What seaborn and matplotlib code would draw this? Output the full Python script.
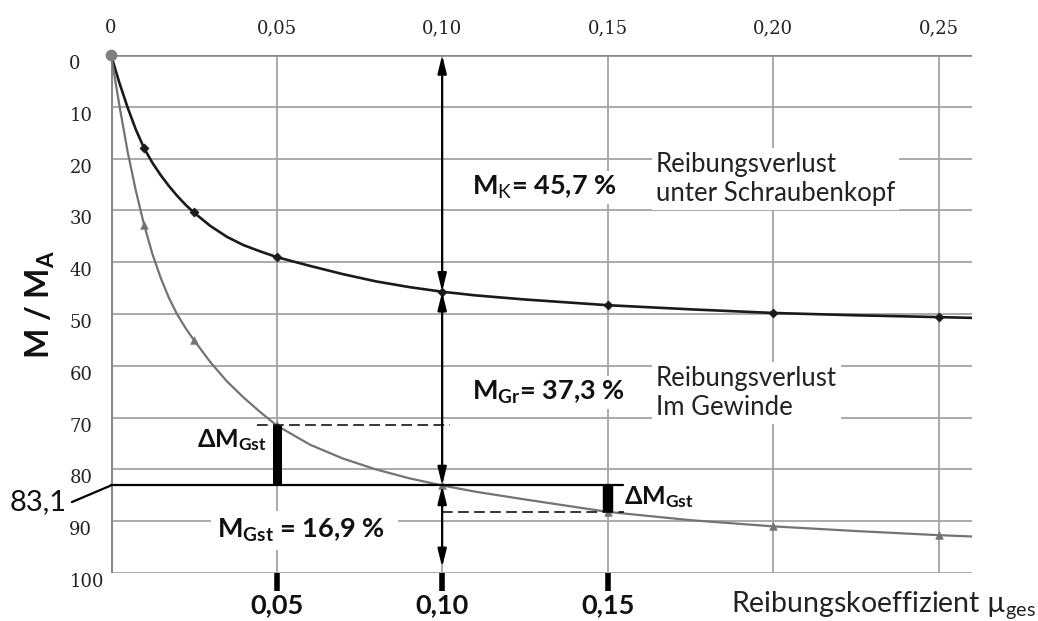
import matplotlib
matplotlib.use("Agg")
import matplotlib.pyplot as plt
import seaborn as sns

# ---------------- data ----------------
mu_markers = [0.0, 0.01, 0.025, 0.05, 0.10, 0.15, 0.20, 0.25]
kopf_markers = [0.0, 18.0, 30.4, 39.0, 45.7, 48.3, 49.8, 50.6]      # M/MA after head friction
gew_markers = [0.0, 32.8, 55.0, 71.5, 83.1, 88.2, 91.0, 92.7]      # M/MA after thread friction

# curve traces read along the drawn (smoothed) lines
kopf_trace_x = [0.0, 0.0025, 0.005, 0.0075, 0.01, 0.0125, 0.015, 0.0175, 0.02, 0.0225, 0.025,
                0.03, 0.035, 0.04, 0.045, 0.05, 0.06, 0.07, 0.08, 0.09, 0.10, 0.11, 0.125,
                0.15, 0.175, 0.20, 0.225, 0.25, 0.26]
kopf_trace_y = [0.0, 5.3, 10.1, 14.4, 18.0, 20.8, 23.2, 25.3, 27.2, 28.9, 30.4,
                33.0, 35.1, 36.7, 37.9, 39.0, 40.7, 42.3, 43.7, 44.8, 45.7, 46.4, 47.2,
                48.3, 49.1, 49.8, 50.25, 50.6, 50.75]
gew_trace_x = [0.0, 0.0025, 0.005, 0.0075, 0.01, 0.0125, 0.015, 0.0175, 0.02, 0.0225, 0.025,
               0.03, 0.035, 0.04, 0.045, 0.05, 0.06, 0.07, 0.08, 0.09, 0.10, 0.11, 0.125,
               0.15, 0.175, 0.20, 0.225, 0.25, 0.26]
gew_trace_y = [0.0, 9.6, 18.6, 26.2, 32.8, 38.4, 43.0, 46.9, 50.1, 52.7, 55.0,
               59.3, 63.0, 66.1, 68.9, 71.5, 75.2, 77.9, 80.0, 81.7, 83.1, 84.3, 85.8,
               88.2, 89.8, 91.0, 91.9, 92.7, 92.95]

top_ticks = [0.0, 0.05, 0.10, 0.15, 0.20, 0.25]
top_labels = ["0", "0,05", "0,10", "0,15", "0,20", "0,25"]
y_ticks = list(range(0, 101, 10))
y_labels = [str(v) for v in y_ticks]
bottom_ticks = [0.05, 0.10, 0.15]
bottom_labels = ["0,05", "0,10", "0,15"]

mu_ref = 0.10
mk_pct = "45,7"
mgr_pct = "37,3"
mgst_pct = "16,9"
ref_label = "83,1"

# ---------------- style ----------------
sns.set_theme(style="white")
plt.rcParams["font.family"] = ["Lato", "DejaVu Sans"]
plt.rcParams["mathtext.fontset"] = "custom"
plt.rcParams["mathtext.rm"] = "Lato"
plt.rcParams["mathtext.bf"] = "Lato:bold"
plt.rcParams["mathtext.it"] = "Lato:italic"
plt.rcParams["mathtext.sf"] = "Lato"
plt.rcParams["mathtext.fallback"] = "stixsans"

W, H = 1038, 621
fig = plt.figure(figsize=(W / 100, H / 100), dpi=100)
ax = fig.add_axes([111 / W, 48 / H, 861 / W, 518 / H])

ax.set_xlim(0, 0.26)
ax.set_ylim(100, 0)

for s in ax.spines.values():
    s.set_visible(False)

ax.grid(True, color="#a4a4a4", lw=1.3)
ax.set_axisbelow(True)
ax.axhline(0, color="#888888", lw=2.6, zorder=1.5)
ax.axvline(0, color="#888888", lw=2.2, zorder=1.5)

# top ticks
ax.xaxis.tick_top()
ax.set_xticks(top_ticks)
ax.set_xticklabels(top_labels, fontfamily="DejaVu Serif", fontsize=13, color="#222222")
ax.tick_params(axis="x", length=0, pad=13)

# left ticks
ax.set_yticks(y_ticks)
ax.set_yticklabels(y_labels, fontfamily="DejaVu Serif", fontsize=13, color="#222222")
ax.tick_params(axis="y", length=0, pad=30)
for lbl in ax.get_yticklabels():
    lbl.set_horizontalalignment("left")
    lbl.set_verticalalignment("top")

# bottom bold ticks
sec = ax.secondary_xaxis("bottom")
sec.set_xticks(bottom_ticks)
sec.set_xticklabels(bottom_labels, fontfamily="Lato", fontweight="bold", fontsize=19.5,
                    color="#111111")
sec.tick_params(axis="x", length=13, width=4, color="black", pad=1.5, direction="out")
for s in sec.spines.values():
    s.set_visible(False)

# curves
sns.lineplot(x=kopf_trace_x, y=kopf_trace_y, ax=ax, color="#1a1a1a", lw=1.9,
             sort=False, estimator=None, zorder=4)
sns.lineplot(x=gew_trace_x, y=gew_trace_y, ax=ax, color="#737373", lw=1.6,
             sort=False, estimator=None, zorder=4)
sns.scatterplot(x=mu_markers[1:], y=kopf_markers[1:], ax=ax, marker="D", s=22,
                color="#1a1a1a", edgecolor="#1a1a1a", zorder=5)
sns.scatterplot(x=mu_markers[1:], y=gew_markers[1:], ax=ax, marker="^", s=30,
                color="#737373", edgecolor="#737373", zorder=5)
ax.scatter([mu_markers[0]], [gew_markers[0]], s=55, color="#808080", zorder=6, clip_on=False)
ax.set_xlabel("")
ax.set_ylabel("")

i_ref = mu_markers.index(mu_ref)
k_ref = kopf_markers[i_ref]
g_ref = gew_markers[i_ref]
g05 = gew_markers[mu_markers.index(0.05)]
g15 = gew_markers[mu_markers.index(0.15)]

# reference line at 83.1 with label connector
ax.plot([0, 0.1547], [g_ref, g_ref], color="black", lw=1.6, zorder=6, clip_on=False)
ax.plot([-0.0118, 0], [86.3, g_ref], color="black", lw=1.6, zorder=6, clip_on=False)
ax.text(-0.0135, 86.3, ref_label, ha="right", va="center", fontsize=21, color="#111111",
        fontfamily="Lato")

# vertical double arrows at mu = 0.10
ap = dict(arrowstyle="<|-|>,head_length=0.9,head_width=0.22", color="black", lw=1.6,
          shrinkA=0, shrinkB=0, mutation_scale=12)
for a, b in [(0, k_ref), (k_ref, g_ref), (g_ref, 98.9)]:
    ax.annotate("", xy=(mu_ref, a), xytext=(mu_ref, b), arrowprops=ap, zorder=7)

# dashed helper lines and bars
ax.plot([0.044, 0.1025], [g05, g05], color="black", lw=1.1, ls=(0, (7, 3.5)), zorder=6)
ax.plot([0.10, 0.155], [g15, g15], color="black", lw=1.1, ls=(0, (7, 3.5)), zorder=6)
ax.plot([0.05, 0.05], [g05, g_ref], color="black", lw=6.5, solid_capstyle="butt", zorder=7)
ax.plot([0.15, 0.15], [g_ref, g15], color="black", lw=7.5, solid_capstyle="butt", zorder=7)

# texts
wbox = dict(facecolor="white", edgecolor="none", pad=2)
ax.text(0.1090, 25.6, r"$\mathbf{M}_\mathrm{K}$= " + mk_pct + " %", fontsize=19.5,
        fontweight="bold", ha="left", va="center", bbox=wbox, zorder=6, color="#111111")
ax.text(0.1645, 24.0, "Reibungsverlust\nunter Schraubenkopf", fontsize=18.5, ha="left",
        va="center", linespacing=1.2, bbox=dict(facecolor="white", edgecolor="none", pad=3),
        zorder=6, color="#222222")
ax.text(0.1090, 65.2, r"$\mathbf{M}_\mathbf{Gr}$= " + mgr_pct + " %", fontsize=19.5,
        fontweight="bold", ha="left", va="center", bbox=wbox, zorder=6, color="#111111")
ax.text(0.1645, 65.3, "Reibungsverlust\nIm Gewinde", fontsize=18.5, ha="left",
        va="center", linespacing=1.2, bbox=dict(facecolor="white", edgecolor="none", pad=3),
        zorder=6, color="#222222")
ax.text(0.0470, 74.3, r"$\mathbf{\Delta M}_\mathbf{Gst}$", fontsize=18, ha="right",
        va="center", zorder=6, color="#111111")
ax.text(0.1550, 85.3, r"$\mathbf{\Delta M}_\mathbf{Gst}$", fontsize=18, ha="left",
        va="center", zorder=6, color="#111111")
ax.text(0.0320, 91.8, r"$\mathbf{M}_\mathbf{Gst}$ = " + mgst_pct + " %  ", fontsize=19.5,
        fontweight="bold", ha="left", va="center",
        bbox=dict(facecolor="white", edgecolor="none", pad=4), zorder=6, color="#111111")

fig.text(731 / W, 1 - 605 / H, r"Reibungskoeffizient $\mathrm{µ}_\mathrm{ges}$", fontsize=20.5,
         ha="left", va="center", color="#222222")
fig.text(40 / W, 1 - 305 / H, r"M / M$_\mathbf{A}$", rotation=90, fontsize=23,
         fontweight="bold", ha="center", va="center", color="#111111")

fig.savefig("out.png", dpi=100, facecolor="white")
